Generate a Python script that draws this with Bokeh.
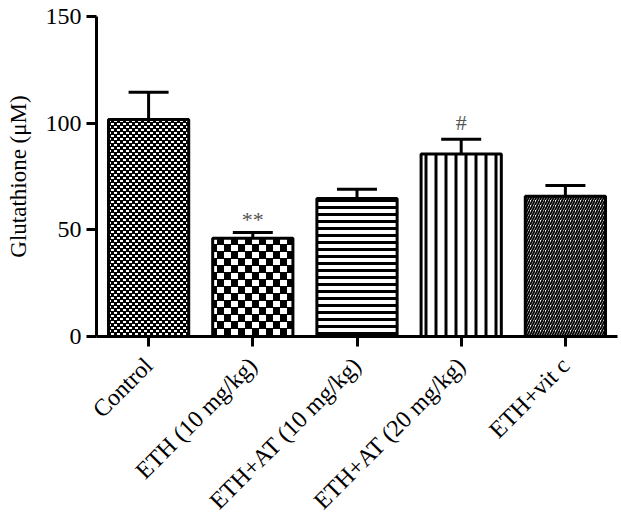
import math
import zlib
import struct
import base64
from bokeh.plotting import figure
from bokeh.models import (ColumnDataSource, FactorRange, Range1d, Whisker, TeeHead,
                          ImageURLTexture)
from bokeh.core.properties import value
from bokeh.embed import file_html
from bokeh.resources import INLINE

# ---- data ----
groups = ["Control", "ETH (10 mg/kg)", "ETH+AT (10 mg/kg)", "ETH+AT (20 mg/kg)", "ETH+vit c"]
means = [101.7, 46.0, 64.7, 85.5, 65.8]
sem = [12.8, 2.8, 4.3, 7.0, 5.0]
annot_groups = ["ETH (10 mg/kg)", "ETH+AT (20 mg/kg)"]
annot_text = ["**", "#"]
annot_y = [55.0, 100.5]
y_ticks = [0, 50, 100, 150]

# ---- styles ----
patterns = ["ctrl", "checker", "horizontal_line", "vertical_line", "right_diagonal_line"]
hscale = [6, 14, 7, 10, 5]
hweight = [1, 1, 3, 3, 1.8]


def png_url(size, white_rects):
    rows = []
    for yy in range(size):
        row = bytearray(b"\x00")
        for xx in range(size):
            white = any(x0 <= xx < x0 + w and y0 <= yy < y0 + h for (x0, y0, w, h) in white_rects)
            row += b"\xff\xff\xff" if white else b"\x00\x00\x00"
        rows.append(bytes(row))
    raw = b"".join(rows)

    def chunk(tag, data):
        c = struct.pack(">I", len(data)) + tag + data
        return c + struct.pack(">I", zlib.crc32(tag + data) & 0xffffffff)

    png = b"\x89PNG\r\n\x1a\n"
    png += chunk(b"IHDR", struct.pack(">IIBBBBB", size, size, 8, 2, 0, 0, 0))
    png += chunk(b"IDAT", zlib.compress(raw))
    png += chunk(b"IEND", b"")
    return "data:image/png;base64," + base64.b64encode(png).decode()


ctrl_tex = ImageURLTexture(url=png_url(6, [(0, 0, 3, 2), (3, 3, 3, 2)]), repetition="repeat")
checker_tex = ImageURLTexture(url=png_url(14, [(0, 0, 7, 6), (7, 7, 7, 6)]), repetition="repeat")

FONT = "Liberation Serif"

src = ColumnDataSource(dict(
    x=groups, top=means, upper=[m + s for m, s in zip(means, sem)],
    pat=patterns, hs=hscale, hw=hweight,
))

p = figure(x_range=FactorRange(*groups, range_padding=0), y_range=Range1d(0, 150),
           width=621, height=527, output_backend="svg", toolbar_location=None,
           min_border_left=96, min_border_right=4, min_border_top=16, min_border_bottom=191)

p.vbar(x="x", top="top", width=0.77, source=src, fill_color="white",
       line_color="black", line_width=3,
       hatch_pattern="pat", hatch_scale="hs", hatch_weight="hw", hatch_color="black",
       hatch_extra={"ctrl": ctrl_tex, "checker": checker_tex})

w = Whisker(source=src, base="x", upper="upper", lower="top", line_width=3,
            line_color="black",
            upper_head=TeeHead(size=40, line_width=3, line_color="black"),
            lower_head=None)
p.add_layout(w)

asrc = ColumnDataSource(dict(x=annot_groups, y=annot_y, t=annot_text))
p.text(x="x", y="y", text="t", source=asrc, text_font=value(FONT),
       text_font_size="22px", text_color="#555555", text_align="center",
       text_baseline="middle")

p.xgrid.grid_line_color = None
p.ygrid.grid_line_color = None
p.outline_line_color = None

for ax in (p.xaxis[0], p.yaxis[0]):
    ax.axis_line_width = 3
    ax.axis_line_color = "black"
    ax.major_tick_line_width = 3
    ax.major_tick_line_color = "black"
    ax.major_tick_out = 10
    ax.major_tick_in = 0
    ax.minor_tick_line_color = None
    ax.major_label_text_font = FONT
    ax.major_label_text_color = "black"

p.yaxis.ticker = y_ticks
p.yaxis.major_label_text_font_size = "24px"
p.yaxis.major_label_standoff = 5
p.yaxis.axis_label = "Glutathione (μM)"
p.yaxis.axis_label_text_font = FONT
p.yaxis.axis_label_text_font_size = "23px"
p.yaxis.axis_label_text_font_style = "normal"
p.yaxis.axis_label_text_color = "black"
p.yaxis.axis_label_standoff = 12

p.xaxis.major_label_text_font_size = "24px"
p.xaxis.major_label_orientation = math.pi / 4
p.xaxis.major_label_standoff = 15

open("out.html", "w").write(file_html(p, INLINE))
